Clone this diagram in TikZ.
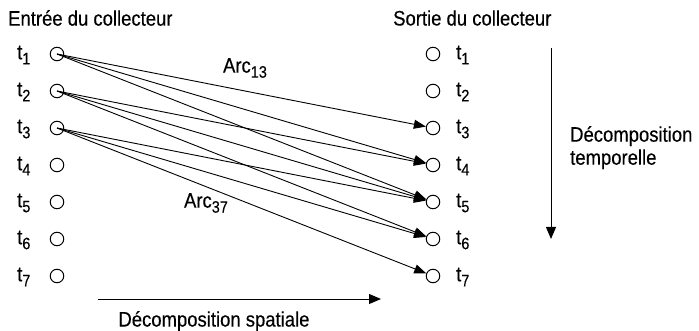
\documentclass[tikz,border=0pt]{standalone}
\usepackage{fontspec}
\setmainfont[FakeStretch=0.88,FakeBold=0.3]{Liberation Sans}
\usetikzlibrary{arrows.meta}
% lowered index, as in t1 or Arc13
\newcommand{\lowidx}[1]{\raisebox{-0.45ex}{\fontsize{16.5pt}{16.5pt}\selectfont #1}}
\tikzset{
  slot/.style={circle, draw, line width=1pt, minimum size=13.5pt, inner sep=0pt},
  lbl/.style={font=\fontsize{21pt}{23pt}\selectfont, inner sep=0pt},
  arc/.style={line width=0.9pt, -{Triangle[length=12pt,width=9pt]}},
  axis/.style={line width=1pt, -{Triangle[length=12pt,width=10pt]}}
}
\begin{document}
\begin{tikzpicture}[x=1pt,y=-1pt]
  \useasboundingbox (0,0) rectangle (699,331);
  % headings
  \node[lbl, anchor=west] (hin) at (8,18) {Entrée du collecteur};
  \node[lbl, anchor=west] (hout) at (393,18) {Sortie du collecteur};
  % input and output slots
  \foreach \i in {1,...,7} {
    \pgfmathsetmacro{\yy}{54+37*(\i-1)}
    \node[slot] (L\i) at (57,\yy) {};
    \node[slot] (R\i) at (433,\yy) {};
    \node[lbl, anchor=west] (lt\i) at (17,\yy+1) {t\lowidx{\i}};
    \node[lbl, anchor=west] (rt\i) at (456,\yy+1) {t\lowidx{\i}};
  }
  % arcs between slots
  \foreach \a/\b in {1/3,1/4,1/5,2/4,2/5,2/6,3/5,3/6,3/7} {
    \draw[arc] (L\a.center) -- (R\b);
  }
  \node[lbl] (a13) at (245,68) {Arc\lowidx{13}};
  \node[lbl] (a37) at (206,203) {Arc\lowidx{37}};
  % decomposition axes
  \coordinate (hs) at (98,299);
  \coordinate (he) at (381,299);
  \draw[axis] (hs) -- (he);
  \node[lbl] (hlab) at (214,321) {Décomposition spatiale};
  \coordinate (vs) at (551,48);
  \coordinate (ve) at (551,239);
  \draw[axis] (vs) -- (ve);
  \node[lbl, anchor=north west, align=left] (vlab) at (570,126) {Décomposition\\temporelle};
\end{tikzpicture}
\end{document}
